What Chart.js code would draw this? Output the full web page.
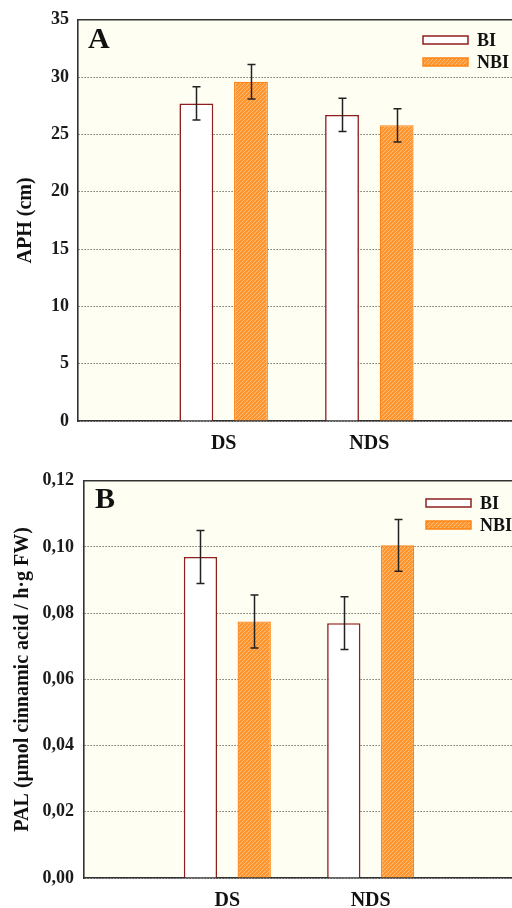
<!DOCTYPE html>
<html>
<head>
<meta charset="utf-8">
<script src="https://cdn.jsdelivr.net/npm/chart.js@4/dist/chart.umd.min.js"></script>
<style>
    html, body { margin: 0; padding: 0; background: #fff; overflow: hidden; }
    #wrap { width: 512px; height: 908px; overflow: hidden; position: relative; }
    canvas { display: block; }
</style>
</head>
<body>
<div id="wrap">
    <canvas id="chart-a" width="530" height="460"></canvas>
    <canvas id="chart-b" width="530" height="448"></canvas>
</div>
<script>
// categories (empty slots at both ends give the wide margins of the original)
const categories = ['', 'DS', 'NDS', ''];
const seriesLabels = ['BI', 'NBI'];

// Panel A: APH (cm)
const aphBI = [null, 27.7, 26.7, null];
const aphNBI = [null, 29.6, 25.8, null];
const aphBIErr = [null, 1.45, 1.45, null];
const aphNBIErr = [null, 1.5, 1.45, null];

// Panel B: PAL
const palBI = [null, 0.097, 0.077, null];
const palNBI = [null, 0.0775, 0.1005, null];
const palBIErr = [null, 0.008, 0.008, null];
const palNBIErr = [null, 0.008, 0.0078, null];

const SERIF = '"Liberation Serif", "Times New Roman", serif';
const PLOT_BG = '#fffef2';
const BI_BORDER = '#8e1f1f';
const NBI_BORDER = '#ff8416';

function makeHatch() {
    const c = document.createElement('canvas');
    c.width = 4;
    c.height = 4;
    const g = c.getContext('2d');
    g.fillStyle = '#ff952e';
    g.fillRect(0, 0, 4, 4);
    g.strokeStyle = '#ffbd7a';
    g.lineWidth = 1;
    g.beginPath();
    g.moveTo(-1, 5); g.lineTo(5, -1);
    g.moveTo(-1, 1); g.lineTo(1, -1);
    g.moveTo(3, 5); g.lineTo(5, 3);
    g.stroke();
    return g.createPattern(c, 'repeat');
}
const hatch = makeHatch();

// background of plot area, frame on top, panel letter, legend, error bars
const panelPlugin = {
    id: 'panel',
    beforeDraw(chart, args, opts) {
        const { ctx, chartArea: a } = chart;
        ctx.save();
        ctx.fillStyle = PLOT_BG;
        ctx.fillRect(a.left, a.top, a.right - a.left, a.bottom - a.top);
        ctx.restore();
    },
    afterDatasetsDraw(chart, args, opts) {
        const { ctx, chartArea: a } = chart;
        const yScale = chart.scales.y;

        // error bars
        ctx.save();
        ctx.strokeStyle = '#222';
        ctx.lineWidth = 1.5;
        chart.data.datasets.forEach((ds, di) => {
            const meta = chart.getDatasetMeta(di);
            meta.data.forEach((bar, i) => {
                const v = ds.data[i];
                const e = ds.errors[i];
                if (v == null || e == null) return;
                const x = Math.round(bar.x) + 0.5;
                const yTop = yScale.getPixelForValue(v + e);
                const yBot = yScale.getPixelForValue(v - e);
                ctx.beginPath();
                ctx.moveTo(x, yTop); ctx.lineTo(x, yBot);
                ctx.moveTo(x - 4, yTop); ctx.lineTo(x + 4, yTop);
                ctx.moveTo(x - 4, yBot); ctx.lineTo(x + 4, yBot);
                ctx.stroke();
            });
        });
        ctx.restore();

        // top frame line
        ctx.save();
        ctx.strokeStyle = '#333';
        ctx.lineWidth = 1.6;
        ctx.beginPath();
        ctx.moveTo(a.left, a.top);
        ctx.lineTo(a.right, a.top);
        ctx.stroke();
        ctx.restore();

        // panel letter
        ctx.save();
        ctx.fillStyle = '#111';
        ctx.font = 'bold 30px ' + SERIF;
        ctx.textBaseline = 'alphabetic';
        ctx.fillText(opts.letter, opts.letterX, 48);
        ctx.restore();

        // legend
        ctx.save();
        ctx.font = 'bold 18px ' + SERIF;
        ctx.textBaseline = 'middle';
        chart.data.datasets.forEach((ds, di) => {
            const bx = opts.legendX;
            const by = opts.legendY + di * 22;
            ctx.fillStyle = ds.backgroundColor;
            ctx.fillRect(bx, by, 45, 8);
            ctx.strokeStyle = ds.borderColor;
            ctx.lineWidth = 1.5;
            ctx.strokeRect(bx, by, 45, 8);
            ctx.fillStyle = '#111';
            ctx.fillText(ds.label, bx + 54, by + 5);
        });
        ctx.restore();
    }
};

function buildChart(id, cfg) {
    const ctx = document.getElementById(id).getContext('2d');
    return new Chart(ctx, {
        type: 'bar',
        data: {
            labels: categories,
            datasets: [
                {
                    label: seriesLabels[0],
                    data: cfg.bi,
                    errors: cfg.biErr,
                    backgroundColor: '#ffffff',
                    borderColor: BI_BORDER,
                    borderWidth: 1.6
                },
                {
                    label: seriesLabels[1],
                    data: cfg.nbi,
                    errors: cfg.nbiErr,
                    backgroundColor: hatch,
                    borderColor: NBI_BORDER,
                    borderWidth: 1.3
                }
            ]
        },
        options: {
            responsive: false,
            animation: false,
            devicePixelRatio: 1,
            categoryPercentage: 0.75,
            barPercentage: 0.62,
            layout: { padding: { top: 19, right: cfg.padRight, left: 0, bottom: 0 } },
            scales: {
                x: {
                    offset: false,
                    grid: { display: false, drawTicks: false },
                    border: { display: true, color: '#333', width: 1.6 },
                    ticks: {
                        color: '#111',
                        padding: 11,
                        maxRotation: 0,
                        autoSkip: false,
                        font: { family: SERIF, size: 20, weight: 'bold' }
                    },
                    afterFit(scale) { scale.height = cfg.xHeight; }
                },
                y: {
                    min: 0,
                    max: cfg.max,
                    grid: { color: '#333', lineWidth: 1, drawTicks: false },
                    border: { display: true, color: '#333', width: 1.6, dash: [1, 2] },
                    ticks: {
                        stepSize: cfg.step,
                        color: '#1a1a1a',
                        padding: cfg.tickPad,
                        font: { family: SERIF, size: 18, weight: 'bold' },
                        callback: cfg.format
                    },
                    title: {
                        display: true,
                        text: cfg.title,
                        color: '#111',
                        padding: { top: cfg.titlePad, bottom: 0 },
                        font: { family: SERIF, size: 20, weight: 'bold' }
                    },
                    afterFit(scale) { scale.width = cfg.yWidth; }
                }
            },
            plugins: {
                legend: { display: false },
                tooltip: { enabled: false },
                panel: {
                    letter: cfg.letter,
                    letterX: cfg.letterX,
                    legendX: cfg.legendX,
                    legendY: cfg.legendY
                }
            }
        },
        plugins: [panelPlugin]
    });
}

buildChart('chart-a', {
    bi: aphBI, nbi: aphNBI, biErr: aphBIErr, nbiErr: aphNBIErr,
    max: 35, step: 5,
    format: (v) => String(v),
    title: 'APH (cm)',
    titlePad: 14, tickPad: 9, yWidth: 78, xHeight: 39, padRight: 15,
    letter: 'A', letterX: 88, legendX: 423, legendY: 36
});

buildChart('chart-b', {
    bi: palBI, nbi: palNBI, biErr: palBIErr, nbiErr: palNBIErr,
    max: 0.12, step: 0.02,
    format: (v) => v.toFixed(2).replace('.', ','),
    title: 'PAL (µmol cinnamic acid / h·g FW)',
    titlePad: 11, tickPad: 10, yWidth: 84, xHeight: 30, padRight: 16,
    letter: 'B', letterX: 95, legendX: 426, legendY: 39
});
</script>
</body>
</html>
